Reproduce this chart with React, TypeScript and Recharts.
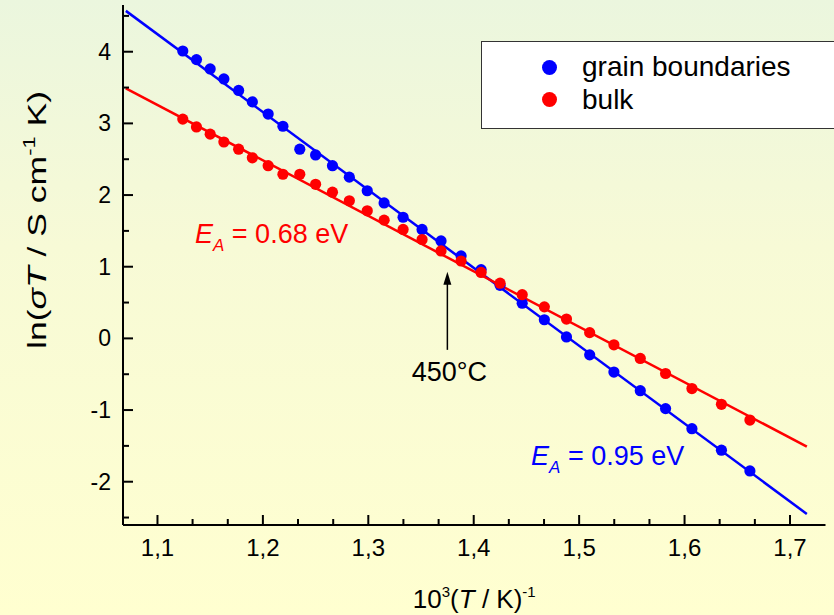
import React from "react";
import {
  ComposedChart,
  Scatter,
  Line,
  XAxis,
  YAxis,
  ReferenceLine,
  ReferenceDot,
  Legend,
} from "recharts";

// 10^3 / T values of the measurement points (shared by both series)
const invTemperature = [
  1.124, 1.137, 1.15, 1.163, 1.177, 1.19, 1.205, 1.219, 1.235, 1.25,
  1.266, 1.282, 1.299, 1.315, 1.333, 1.351, 1.369, 1.388, 1.407, 1.425,
  1.446, 1.467, 1.488, 1.51, 1.533, 1.558, 1.582, 1.607, 1.635, 1.662,
];
const grainBoundaries = [
  4.01, 3.89, 3.76, 3.62, 3.46, 3.3, 3.13, 2.96, 2.64, 2.56,
  2.41, 2.25, 2.06, 1.89, 1.69, 1.52, 1.36, 1.15, 0.96, 0.74,
  0.49, 0.26, 0.02, -0.23, -0.47, -0.73, -0.98, -1.26, -1.56, -1.85,
];
const bulk = [
  3.06, 2.95, 2.85, 2.74, 2.64, 2.52, 2.41, 2.29, 2.29, 2.15,
  2.04, 1.92, 1.78, 1.65, 1.52, 1.38, 1.22, 1.08, 0.92, 0.77,
  0.61, 0.44, 0.27, 0.08, -0.09, -0.28, -0.49, -0.7, -0.92, -1.14,
];
const seriesNames = ["grain boundaries", "bulk"];

// Arrhenius fits, end points
const fitRange = [1.07, 1.716];
const grainBoundaryFit = [4.57, -2.45];
const bulkFit = [3.49, -1.51];

const xMajorTicks = [1.1, 1.2, 1.3, 1.4, 1.5, 1.6, 1.7];
const xMinorTicks = [1.1333, 1.1667, 1.2333, 1.2667, 1.3333, 1.3667, 1.4333, 1.4667, 1.5333, 1.5667, 1.6333, 1.6667];
const yMajorTicks = [-2, -1, 0, 1, 2, 3, 4];
const yMinorTicks = [-2.5, -1.5, -0.5, 0.5, 1.5, 2.5, 3.5, 4.5];

const xDomain = [1.0673, 1.7337];
const yDomain = [-2.604, 4.652];

const FONT = '"Liberation Sans", Arial, Helvetica, sans-serif';
const BLUE = "#0000ff";
const RED = "#ff0000";

const gbPoints = invTemperature.map((x, i) => ({ x, y: grainBoundaries[i] }));
const bulkPoints = invTemperature.map((x, i) => ({ x, y: bulk[i] }));
const gbFitLine = fitRange.map((x, i) => ({ x, y: grainBoundaryFit[i] }));
const bulkFitLine = fitRange.map((x, i) => ({ x, y: bulkFit[i] }));

const xTicks = [...xMajorTicks, ...xMinorTicks].sort((a, b) => a - b);
const yTicks = [...yMajorTicks, ...yMinorTicks].sort((a, b) => a - b);
const isMajor = (list: number[], v: number) => list.some((m) => Math.abs(m - v) < 1e-6);

// ticks point inwards on all four sides, minor ones shorter
const BottomTick = ({ x, y, payload }: any) => {
  const major = isMajor(xMajorTicks, payload.value);
  return (
    <g>
      <line x1={x} x2={x} y1={y} y2={y - (major ? 10 : 6)} stroke="#000" strokeWidth={2} />
      {major && (
        <text x={x} y={y + 31} textAnchor="middle" fontSize={24} fontFamily={FONT} fill="#000">
          {String(payload.value).replace(".", ",")}
        </text>
      )}
    </g>
  );
};
const TopTick = ({ x, y, payload }: any) => {
  const major = isMajor(xMajorTicks, payload.value);
  return <line x1={x} x2={x} y1={y} y2={y + (major ? 10 : 6)} stroke="#000" strokeWidth={2} />;
};
const LeftTick = ({ x, y, payload }: any) => {
  const major = isMajor(yMajorTicks, payload.value);
  return (
    <g>
      <line x1={x} x2={x + (major ? 10 : 6)} y1={y} y2={y} stroke="#000" strokeWidth={2} />
      {major && (
        <text x={x - 12} y={y + 8} textAnchor="end" fontSize={23} fontFamily={FONT} fill="#000">
          {String(payload.value)}
        </text>
      )}
    </g>
  );
};
const RightTick = ({ x, y, payload }: any) => {
  const major = isMajor(yMajorTicks, payload.value);
  return <line x1={x} x2={x - (major ? 10 : 6)} y1={y} y2={y} stroke="#000" strokeWidth={2} />;
};

const XTitle = ({ viewBox }: any) => (
  <text x={viewBox.x + viewBox.width / 2} y={viewBox.y + 83} textAnchor="middle" fontSize={26} fontFamily={FONT} fill="#000">
    10<tspan dy={-11} fontSize={15}>3</tspan>
    <tspan dy={11}>(</tspan>
    <tspan fontStyle="italic">T</tspan> / K)
    <tspan dy={-11} fontSize={15}>-1</tspan>
  </text>
);
const YTitle = ({ viewBox }: any) => (
  <text
    transform={`translate(${viewBox.x + 46}, ${viewBox.y + viewBox.height / 2 - 45}) rotate(-90)`}
    textAnchor="middle"
    fontSize={26}
    fontFamily={FONT}
    fill="#000"
    textLength={258}
    lengthAdjust="spacingAndGlyphs"
  >
    ln(<tspan fontStyle="italic">σT</tspan> / S cm
    <tspan dy={-11} fontSize={16}>-1</tspan>
    <tspan dy={11}> K)</tspan>
  </text>
);

const activation = (value: string, color: string) => ({ viewBox }: any) => (
  <text x={viewBox.x} y={viewBox.y} fontSize={27} fontFamily={FONT} fill={color}>
    <tspan fontStyle="italic">E</tspan>
    <tspan dy={8} fontSize={17} fontStyle="italic">A</tspan>
    <tspan dy={-8}>{` = ${value} eV`}</tspan>
  </text>
);
const tempLabel = ({ viewBox }: any) => (
  <text x={viewBox.x} y={viewBox.y} fontSize={27} fontFamily={FONT} fill="#000">
    450°C
  </text>
);

const Arrow = ({ x1, y1, x2, y2 }: any) => (
  <g>
    <line x1={x1} y1={y1} x2={x2} y2={y2 + 10} stroke="#000" strokeWidth={1.5} />
    <polygon points={`${x2},${y2} ${x2 - 4},${y2 + 13} ${x2 + 4},${y2 + 13}`} fill="#000" />
  </g>
);

const LegendBox = ({ payload }: any) => {
  const items = seriesNames
    .map((name) => (payload || []).find((p: any) => p.value === name))
    .filter(Boolean);
  return (
    <div
      style={{
        width: 370,
        height: 88,
        boxSizing: "border-box",
        background: "#fff",
        border: "1.5px solid #333",
        position: "relative",
        fontFamily: FONT,
        fontSize: 28,
        color: "#000",
      }}
    >
      {items.map((p: any, i: number) => (
        <div key={i} style={{ position: "absolute", left: 60, top: 10 + i * 32.5, height: 30, display: "flex", alignItems: "center" }}>
          <span style={{ width: 15, height: 15, borderRadius: 8, background: p.color, display: "inline-block" }} />
          <span style={{ marginLeft: 25, lineHeight: "30px" }}>{p.value}</span>
        </div>
      ))}
    </div>
  );
};

const dot = (color: string) => (p: any) => <circle cx={p.cx} cy={p.cy} r={5.6} fill={color} />;

export default function App() {
  return (
    <div
      style={{
        position: "absolute",
        left: 0,
        top: 0,
        width: 834,
        height: 615,
        overflow: "hidden",
        background: "linear-gradient(to bottom, #ebf6de 0%, #f7fad6 40%, #ffffd0 100%)",
      }}
    >
      <ComposedChart width={834} height={615} margin={{ top: 5, right: 8.5, bottom: 0, left: 0 }}>
        <XAxis
          xAxisId="b"
          type="number"
          dataKey="x"
          domain={xDomain}
          allowDataOverflow
          ticks={xTicks}
          interval={0}
          tickSize={0}
          tickMargin={0}
          tickLine={false}
          tick={<BottomTick />}
          axisLine={{ stroke: "#000", strokeWidth: 2 }}
          height={90}
          label={{ content: XTitle }}
        />
        <XAxis
          xAxisId="t"
          orientation="top"
          type="number"
          dataKey="x"
          domain={xDomain}
          allowDataOverflow
          ticks={xTicks}
          interval={0}
          tickSize={0}
          tickMargin={0}
          tickLine={false}
          tick={<TopTick />}
          axisLine={{ stroke: "#000", strokeWidth: 2 }}
          height={0}
        />
        <YAxis
          yAxisId="l"
          type="number"
          dataKey="y"
          domain={yDomain}
          allowDataOverflow
          ticks={yTicks}
          interval={0}
          tickSize={0}
          tickMargin={0}
          tickLine={false}
          tick={<LeftTick />}
          axisLine={{ stroke: "#000", strokeWidth: 2 }}
          width={123}
          label={{ content: YTitle }}
        />
        <YAxis
          yAxisId="r"
          orientation="right"
          type="number"
          dataKey="y"
          domain={yDomain}
          allowDataOverflow
          ticks={yTicks}
          interval={0}
          tickSize={0}
          tickMargin={0}
          tickLine={false}
          tick={<RightTick />}
          axisLine={{ stroke: "#000", strokeWidth: 2 }}
          width={0}
        />
        <Line data={gbFitLine} dataKey="y" xAxisId="b" yAxisId="l" stroke={BLUE} strokeWidth={2.5} dot={false} legendType="none" isAnimationActive={false} />
        <Line data={bulkFitLine} dataKey="y" xAxisId="b" yAxisId="l" stroke={RED} strokeWidth={2.5} dot={false} legendType="none" isAnimationActive={false} />
        <Scatter name={seriesNames[0]} data={gbPoints} xAxisId="b" yAxisId="l" fill={BLUE} shape={dot(BLUE)} isAnimationActive={false} />
        <Scatter name={seriesNames[1]} data={bulkPoints} xAxisId="b" yAxisId="l" fill={RED} shape={dot(RED)} isAnimationActive={false} />
        <ReferenceLine
          xAxisId="b"
          yAxisId="l"
          segment={[{ x: 1.375, y: -0.16 }, { x: 1.375, y: 0.93 }]}
          shape={Arrow}
          stroke="#000"
        />
        <ReferenceDot xAxisId="b" yAxisId="l" x={1.1356} y={1.335} r={0} fill="none" stroke="none" label={activation("0.68", RED)} />
        <ReferenceDot xAxisId="b" yAxisId="l" x={1.4544} y={-1.767} r={0} fill="none" stroke="none" label={activation("0.95", BLUE)} />
        <ReferenceDot xAxisId="b" yAxisId="l" x={1.3412} y={-0.59} r={0} fill="none" stroke="none" label={tempLabel} />
        <Legend
          layout="horizontal"
          verticalAlign="middle"
          align="center"
          wrapperStyle={{ position: "absolute", left: 481, top: 41, width: 370, height: 88 }}
          content={LegendBox}
        />
      </ComposedChart>
    </div>
  );
}
